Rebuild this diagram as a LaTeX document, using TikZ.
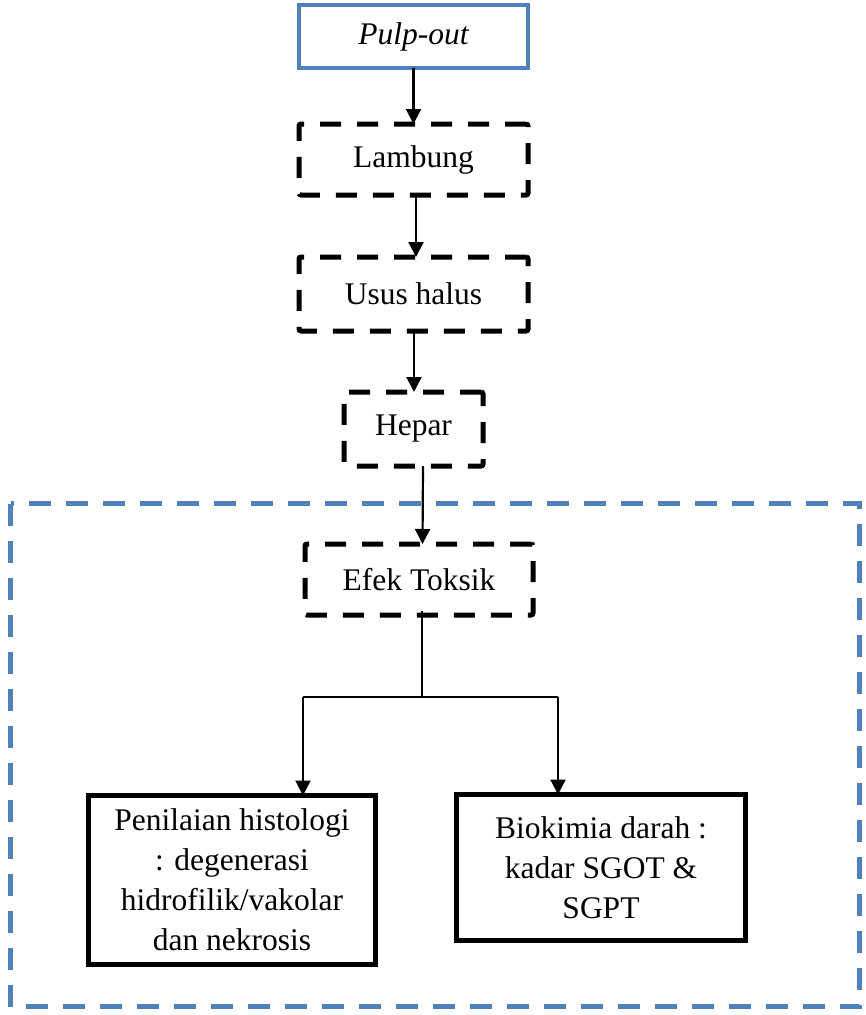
\documentclass[tikz,border=0pt]{standalone}
\usepackage{fontspec}
\setmainfont{Liberation Serif}
\usetikzlibrary{arrows.meta}
\definecolor{boxblue}{RGB}{79,129,189}
\begin{document}
\begin{tikzpicture}[x=1pt,y=-1pt,
  every node/.style={font=\fontsize{31.5}{40}\selectfont, inner sep=0pt, outer sep=0pt, align=center},
  bluebox/.style={draw=boxblue, line width=4.5pt, minimum width=229pt, minimum height=63pt},
  dashbox/.style={draw=black, line width=5pt, dash pattern=on 21pt off 16pt, rounded corners=2pt},
  solidbox/.style={draw=black, line width=5.5pt},
  arr/.style={line width=2.2pt, -{Triangle[length=15pt,width=15pt]}},
  conn/.style={line width=2.2pt}
]
\useasboundingbox (0,0) rectangle (866,1015);
% outer blue dashed frame
\draw[boxblue, line width=5pt, dash pattern=on 22pt off 15pt] (10.5,503.5) rectangle (859.5,1006.5);

\node[bluebox] (pulp) at (413.5,36.5) {\itshape Pulp-out};
\node[dashbox, minimum width=229pt, minimum height=71pt] (lambung) at (413.5,159.5) {Lambung};
\node[dashbox, minimum width=229pt, minimum height=74pt] (usus) at (413.5,294) {Usus halus};
\node[dashbox, minimum width=139pt, minimum height=74pt] (hepar) at (413.5,429) {Hepar};
\node[dashbox, minimum width=228pt, minimum height=71pt] (efek) at (419,579.5) {Efek Toksik};
\node[solidbox, minimum width=287pt, minimum height=169pt] (pen) at (232,880)
  {Penilaian histologi\\: degenerasi\\hidrofilik/vakolar\\dan nekrosis};
\node[solidbox, minimum width=289pt, minimum height=146pt] (bio) at (601,867.5)
  {Biokimia darah :\\kadar SGOT \&\\SGPT};

\coordinate (j) at (422,697);
\coordinate (jl) at (303,697);
\coordinate (jr) at (558,697);

\draw[arr] (pulp.south) -- (lambung.north);
\draw[arr] ([xshift=2.5pt]lambung.south) -- ([xshift=2.5pt]usus.north);
\draw[arr] ([xshift=0.5pt]usus.south) -- ([xshift=0.5pt]hepar.north);
\draw[arr] ([xshift=9.5pt]hepar.south) -- ([xshift=3.5pt]efek.north);
\draw[conn] ([yshift=4pt]efek.south -| j) -- (j);
\draw[conn] (jl) -- (jr);
\draw[arr] (jl) -- (jl |- pen.north);
\draw[arr] (jr) -- (jr |- bio.north);
\end{tikzpicture}
\end{document}
